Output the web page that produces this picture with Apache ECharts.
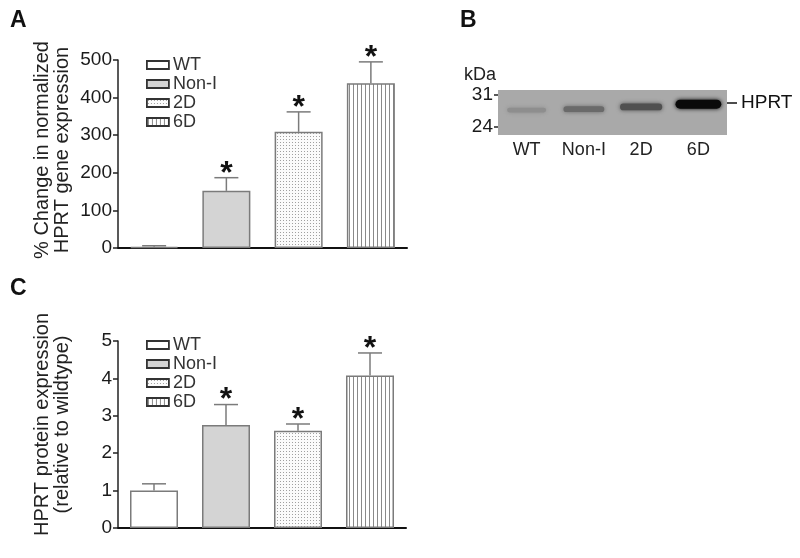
<!DOCTYPE html>
<html>
<head>
<meta charset="utf-8">
<script src="https://cdn.jsdelivr.net/npm/echarts@6/dist/echarts.min.js"></script>
<style>
html,body{margin:0;padding:0;background:#fff;}
#chart{width:800px;height:558px;}
</style>
</head>
<body>
<div id="chart"></div>
<script>
// ---- data ----
const categories = ['WT', 'Non-I', '2D', '6D'];
// Panel A: % change in normalized HPRT gene expression
const geneMean = [3, 152, 309, 438];
const geneErr = [3, 35, 53, 57];
const geneSig = [0, 1, 1, 1];
// Panel C: HPRT protein expression (relative to wildtype)
const protMean = [1.0, 2.75, 2.6, 4.08];
const protErr = [0.18, 0.55, 0.18, 0.6];
const protSig = [0, 1, 1, 1];
// Panel B: western blot
const mwMarkers = [24, 31];
const hprtMW = [29.25];
const bandMW = [27.7, 27.9, 28.4, 29.0];
const bandDensity = [0.15, 0.38, 0.55, 1.0];

// ---- patterns ----
function dotPattern() {
  const c = document.createElement('canvas');
  c.width = 3; c.height = 3;
  const g = c.getContext('2d');
  g.fillStyle = '#fbfbfb'; g.fillRect(0, 0, 3, 3);
  g.fillStyle = '#a0a0a0'; g.fillRect(1, 1, 1, 1);
  return { image: c, repeat: 'repeat' };
}
function linePattern() {
  const c = document.createElement('canvas');
  c.width = 4; c.height = 4;
  const g = c.getContext('2d');
  g.fillStyle = '#ffffff'; g.fillRect(0, 0, 4, 4);
  g.fillStyle = '#8a8a8a'; g.fillRect(1, 0, 1, 4);
  return { image: c, repeat: 'repeat' };
}
const FONT = "'Liberation Sans', Arial, sans-serif";
const border = '#7b7b7b';
const barStyles = [
  { color: '#ffffff', borderColor: border, borderWidth: 1.5 },
  { color: '#d4d4d4', borderColor: border, borderWidth: 1.5 },
  { color: dotPattern(), borderColor: border, borderWidth: 1.5 },
  { color: linePattern(), borderColor: border, borderWidth: 1.5 }
];

function barSeries(mean, xi, yi) {
  return categories.map((name, i) => ({
    type: 'bar', name: name, xAxisIndex: xi, yAxisIndex: yi,
    data: categories.map((c, j) => (j === i ? mean[j] : '-')),
    barWidth: 48, barGap: '-100%',
    itemStyle: barStyles[i], silent: true
  }));
}
function errRender(params, api) {
  const i = api.value(0), m = api.value(1), e = api.value(2), s = api.value(3);
  const p0 = api.coord([i, m]);
  const p1 = api.coord([i, m + e]);
  const ch = [
    { type: 'line', shape: { x1: p0[0], y1: p0[1], x2: p1[0], y2: p1[1] }, style: { stroke: border, lineWidth: 1.5 } },
    { type: 'line', shape: { x1: p1[0] - 12, y1: p1[1], x2: p1[0] + 12, y2: p1[1] }, style: { stroke: border, lineWidth: 1.5 } }
  ];
  if (s) ch.push({ type: 'text', x: p1[0], y: p1[1] - 4, style: { text: '*', fill: '#111', font: 'bold 32px ' + FONT, align: 'center', verticalAlign: 'middle' } });
  return { type: 'group', children: ch };
}
function errSeries(mean, err, sig, xi, yi) {
  return {
    type: 'custom', xAxisIndex: xi, yAxisIndex: yi, z: 10, silent: true,
    data: categories.map((c, j) => [j, mean[j], err[j], sig[j]]),
    renderItem: errRender
  };
}
function bandRender(params, api) {
  const i = api.value(0), mw = api.value(1), d = api.value(2);
  const p = api.coord([i, mw]);
  const w = api.size([1, 0])[0] * (0.66 + 0.14 * d);
  const h = 4 + 5 * d;
  const g = Math.round(165 - 155 * d);
  const col = 'rgb(' + g + ',' + g + ',' + g + ')';
  return { type: 'rect', shape: { x: p[0] - w / 2, y: p[1] - h / 2, width: w, height: h, r: h / 2 },
    style: { fill: col, shadowBlur: 4, shadowColor: col } };
}

const tickLabel = { fontSize: 19, color: '#1a1a1a', fontFamily: FONT };
function valueAxis(grid, max, interval, name, pad) {
  return {
    type: 'value', gridIndex: grid, min: 0, max: max, interval: interval,
    axisLine: { show: true, lineStyle: { color: '#222', width: 1.5 } },
    axisTick: { show: true, length: 5, lineStyle: { color: '#222', width: 1.5 } },
    axisLabel: Object.assign({ margin: 6 }, tickLabel),
    splitLine: { show: false },
    name: name, nameLocation: 'middle', nameRotate: 90, nameGap: 46,
    nameTextStyle: { fontSize: 20, lineHeight: 20, color: '#222', fontFamily: FONT, padding: [0, 0, 0, pad] }
  };
}
function catAxis(grid) {
  return {
    type: 'category', gridIndex: grid, data: categories,
    axisLine: { show: true, lineStyle: { color: '#111', width: 2 } },
    axisTick: { show: false }, axisLabel: { show: false }
  };
}
function legend(top) {
  return {
    data: categories, orient: 'vertical', left: 141, top: top,
    icon: 'rect', itemWidth: 22, itemHeight: 8, itemGap: 1,
    itemStyle: { borderColor: '#333', borderWidth: 1.8 },
    textStyle: { fontSize: 18, color: '#333', fontFamily: FONT, padding: [0, 0, 0, -1] },
    selectedMode: false
  };
}
const letter = (t, l, tp) => ({ text: t, left: l, top: tp, padding: 0,
  textStyle: { fontSize: 23, fontWeight: 'bold', color: '#111', fontFamily: FONT } });

const option = {
  animation: false,
  backgroundColor: '#ffffff',
  title: [letter('A', 10, 9), letter('B', 460, 9), letter('C', 10, 277)],
  legend: [legend(51), legend(331)],
  grid: [
    { left: 118, right: 393, top: 60, bottom: 310 },
    { left: 498, right: 73, top: 90, bottom: 423, show: true, backgroundColor: '#a9a9a9', borderWidth: 0 },
    { left: 118, right: 394, top: 341, bottom: 28 }
  ],
  xAxis: [
    catAxis(0),
    { type: 'category', gridIndex: 1, data: categories,
      axisLine: { show: false }, axisTick: { show: false },
      axisLabel: { fontSize: 18, color: '#222', fontFamily: FONT, margin: 6 } },
    catAxis(2)
  ],
  yAxis: [
    valueAxis(0, 500, 100, '% Change in normalized\nHPRT gene expression', 8),
    { type: 'value', gridIndex: 1, min: 22.25, max: 32.09, position: 'left',
      axisLine: { show: false }, splitLine: { show: false },
      axisTick: { show: true, length: 4, customValues: mwMarkers, lineStyle: { color: '#222', width: 1.5 } },
      axisLabel: Object.assign({ customValues: mwMarkers, margin: 5 }, tickLabel),
      name: 'kDa', nameLocation: 'end', nameGap: 6,
      nameTextStyle: { align: 'right', fontSize: 18, color: '#222', fontFamily: FONT, padding: [0, 2, 0, 0] } },
    { type: 'value', gridIndex: 1, min: 22.25, max: 32.09, position: 'right',
      axisLine: { show: false }, splitLine: { show: false },
      axisTick: { show: true, length: 10, customValues: hprtMW, lineStyle: { color: '#111', width: 1.5 } },
      axisLabel: Object.assign({ customValues: hprtMW, margin: 14, formatter: () => 'HPRT' }, tickLabel, { color: '#111' }) },
    valueAxis(2, 5, 1, 'HPRT protein expression\n(relative to wildtype)', 20)
  ],
  series: [].concat(
    barSeries(geneMean, 0, 0),
    [errSeries(geneMean, geneErr, geneSig, 0, 0)],
    [{ type: 'custom', xAxisIndex: 1, yAxisIndex: 1, silent: true,
       data: categories.map((c, j) => [j, bandMW[j], bandDensity[j]]), renderItem: bandRender }],
    barSeries(protMean, 2, 3),
    [errSeries(protMean, protErr, protSig, 2, 3)]
  )
};
const chart = echarts.init(document.getElementById('chart'), null, { renderer: 'canvas' });
chart.setOption(option);
</script>
</body>
</html>
